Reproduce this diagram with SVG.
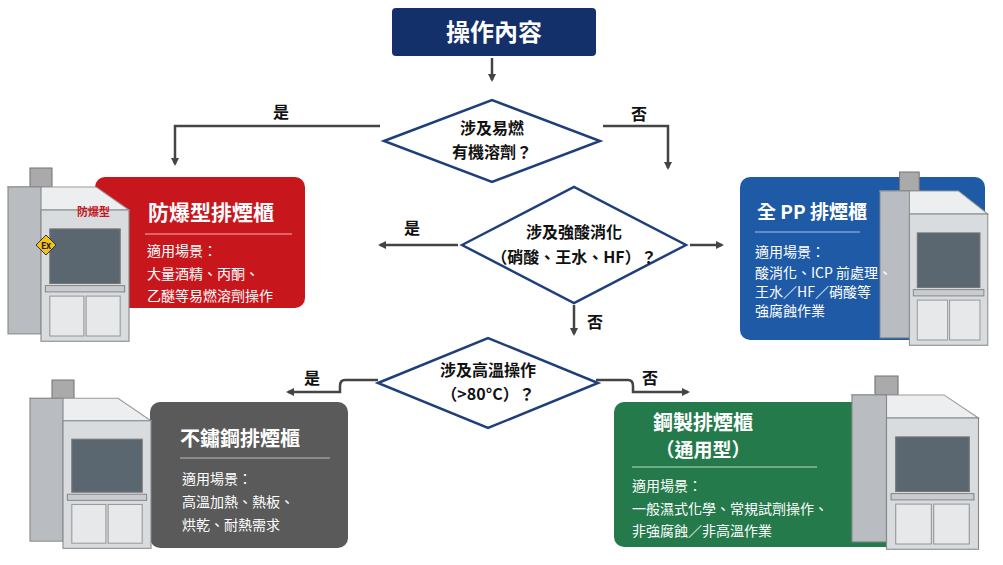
<svg xmlns="http://www.w3.org/2000/svg" width="1003" height="565" viewBox="0 0 1003 565">
<defs>
<style>
text{font-family:"Noto Sans CJK TC","Noto Sans",sans-serif}
.t{fill:#fff;font-weight:bold}
.b{fill:#fff;font-size:14px}
.d{fill:#fff;stroke:#1f3f7a;stroke-width:2.5}
.dt{fill:#111;font-size:16px;font-weight:bold;text-anchor:middle}
.c{fill:none;stroke:#444;stroke-width:2.5}
.l{fill:#111;font-size:16px;font-weight:bold;text-anchor:middle}
.cab{fill:#d9dcdf;stroke:#888;stroke-width:1}
.side{fill:#b9bdc1;stroke:#888}
.win{fill:#5b6770;stroke:#777}
</style>
<marker id="a" markerWidth="8" markerHeight="8" refX="6" refY="4" orient="auto" markerUnits="userSpaceOnUse" viewBox="0 0 8 8"><path d="M0,0L8,4L0,8z" fill="#444"/></marker>
<g id="cabinet">
<rect x="20" y="0" width="20" height="18" fill="#aaa" stroke="#777"/>
<polygon points="0,18 80,18 110,40 30,40" fill="#eceef0" stroke="#999"/>
<rect x="0" y="18" width="30" height="140" class="side"/>
<rect x="30" y="40" width="80" height="125" class="cab"/>
<rect x="38" y="58" width="64" height="52" class="win"/>
<rect x="34" y="112" width="72" height="6" fill="#c8ccd0" stroke="#888"/>
<rect x="38" y="122" width="31" height="38" fill="#e6e8ea" stroke="#999"/>
<rect x="71" y="122" width="31" height="38" fill="#e6e8ea" stroke="#999"/>
</g>
</defs>
<rect width="1003" height="565" fill="#fff"/>

<g id="connectors">
<path class="c" d="M492,58V80" marker-end="url(#a)"/>
<path class="c" d="M380,126H175V164" marker-end="url(#a)"/>
<path class="c" d="M603,126H668V168" marker-end="url(#a)"/>
<path class="c" d="M458,245H380" marker-end="url(#a)"/>
<path class="c" d="M690,245H722" marker-end="url(#a)"/>
<path class="c" d="M574,305V334" marker-end="url(#a)"/>
<path class="c" d="M378,380H345Q340,380 340,386V392H288" marker-end="url(#a)"/>
<path class="c" d="M596,380H628Q633,380 633,386V392H688" marker-end="url(#a)"/>
<text class="l" x="281" y="118">是</text>
<text class="l" x="639" y="120">否</text>
<text class="l" x="412" y="234">是</text>
<text class="l" x="595" y="328">否</text>
<text class="l" x="312" y="384">是</text>
<text class="l" x="650" y="384">否</text>
</g>

<g id="start">
<rect x="392" y="8" width="204" height="48" rx="4" fill="#14306a"/>
<text class="t" x="494" y="41" font-size="24" text-anchor="middle">操作內容</text>
</g>

<g id="q1">
<polygon class="d" points="384,141 492,100 600,141 492,182"/>
<text class="dt" x="492" y="134">涉及易燃</text>
<text class="dt" x="492" y="158">有機溶劑？</text>
</g>
<g id="q2">
<polygon class="d" points="462,245 574,187 686,245 574,303"/>
<text class="dt" x="574" y="238">涉及強酸消化</text>
<text class="dt" x="574" y="263">（硝酸、王水、HF）？</text>
</g>
<g id="q3">
<polygon class="d" points="378,383 488,338 598,383 488,428"/>
<text class="dt" x="488" y="376">涉及高溫操作</text>
<text class="dt" x="488" y="400">（&gt;80°C）？</text>
</g>

<g id="explosion">
<rect x="95" y="177" width="210" height="131" rx="10" fill="#c8161d"/>
<use href="#cabinet" transform="translate(8,168) scale(1.1,1.05)"/>
<text x="77" y="216" fill="#c8161d" font-size="11" font-weight="bold">防爆型</text>
<polygon points="36,245 46,235 56,245 46,255" fill="#f2c21b" stroke="#333"/>
<text x="46" y="249" font-size="9" font-weight="bold" text-anchor="middle" fill="#222">Ex</text>
<text class="t" x="148" y="220" font-size="21">防爆型排煙櫃</text>
<line x1="145" y1="234" x2="292" y2="234" stroke="#f0b0b0" stroke-width="1"/>
<text class="b" x="147" y="256">適用場景：</text>
<text class="b" x="147" y="279">大量酒精、丙酮、</text>
<text class="b" x="147" y="301">乙醚等易燃溶劑操作</text>
</g>

<g id="pp">
<rect x="740" y="177" width="245" height="163" rx="10" fill="#1f5aa6"/>
<use href="#cabinet" transform="translate(880,172) scale(0.98,1.05)"/>
<text class="t" x="757" y="219" font-size="19">全 PP 排煙櫃</text>
<line x1="755" y1="232" x2="860" y2="232" stroke="#a8c0e8"/>
<text class="b" x="755" y="257" font-size="12">適用場景：</text>
<text class="b" x="755" y="278" font-size="11.5">酸消化、ICP 前處理、</text>
<text class="b" x="755" y="297" font-size="11.5">王水／HF／硝酸等</text>
<text class="b" x="755" y="316" font-size="11.5">強腐蝕作業</text>
</g>

<g id="steel">
<rect x="150" y="402" width="198" height="146" rx="10" fill="#5a5a5a"/>
<use href="#cabinet" transform="translate(30,380) scale(1.1,1.02)"/>
<text class="t" x="180" y="446" font-size="20">不鏽鋼排煙櫃</text>
<line x1="180" y1="458" x2="330" y2="458" stroke="#bbb"/>
<text class="b" x="182" y="484">適用場景：</text>
<text class="b" x="182" y="507">高溫加熱、熱板、</text>
<text class="b" x="182" y="530">烘乾、耐熱需求</text>
</g>

<g id="general">
<rect x="614" y="402" width="286" height="145" rx="10" fill="#247a4b"/>
<use href="#cabinet" transform="translate(852,376) scale(1.15,1.05)"/>
<text class="t" x="703" y="430" font-size="20" text-anchor="middle">鋼製排煙櫃</text>
<text class="t" x="703" y="457" font-size="19" text-anchor="middle">（通用型）</text>
<line x1="632" y1="467" x2="817" y2="467" stroke="#b8dcc8"/>
<text class="b" x="632" y="491">適用場景：</text>
<text class="b" x="632" y="514">一般濕式化學、常規試劑操作、</text>
<text class="b" x="632" y="536">非強腐蝕／非高溫作業</text>
</g>
</svg>
